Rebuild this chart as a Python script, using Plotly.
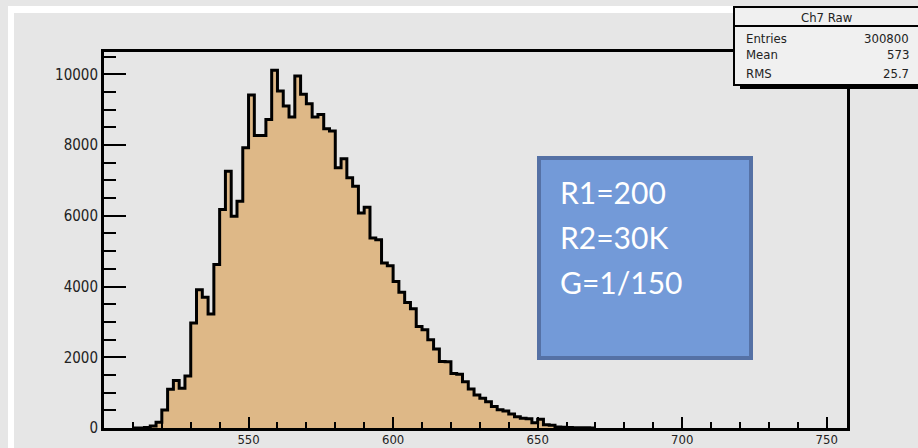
import plotly.graph_objects as go

# Ch7 raw ADC histogram, 2-count bins (left bin edges and contents)
bin_left = [510, 512, 514, 516, 518, 520, 522, 524, 526, 528,
            530, 532, 534, 536, 538, 540, 542, 544, 546, 548,
            550, 552, 554, 556, 558, 560, 562, 564, 566, 568,
            570, 572, 574, 576, 578, 580, 582, 584, 586, 588,
            590, 592, 594, 596, 598, 600, 602, 604, 606, 608,
            610, 612, 614, 616, 618, 620, 622, 624, 626, 628,
            630, 632, 634, 636, 638, 640, 642, 644, 646, 648,
            650, 652, 654, 656, 658, 660, 662, 664, 666, 668]
counts = [0, 0, 15, 60, 160, 510, 1095, 1340, 1125, 1473,
          2965, 3910, 3700, 3220, 4620, 6175, 7260, 5985, 6410, 7920,
          9415, 8270, 8270, 8725, 10115, 9530, 9100, 8790, 9950, 9435,
          9170, 8790, 8865, 8460, 8395, 7355, 7610, 7075, 6835, 6080,
          6240, 5375, 5325, 4665, 4590, 4145, 3835, 3550, 3370, 2870,
          2775, 2495, 2230, 1880, 1870, 1540, 1520, 1310, 1100, 935,
          840, 745, 605, 515, 480, 397, 320, 275, 260, 150,
          246, 90, 80, 30, 20, 15, 10, 8, 5, 0]
bin_width = 2

x_range = [500, 757]
y_range = [0, 10630]
x_ticks = [550, 600, 650, 700, 750]
y_ticks = [0, 2000, 4000, 6000, 8000, 10000]
x_tick_text = ["550", "600", "650", "700", "750"]
y_tick_text = ["0", "2000", "4000", "6000", "8000", "10000"]

hist_title = "Ch7 Raw"
stat_names = ["Entries", "Mean", "RMS"]
stat_values = ["300800", "573", "25.7"]
note_lines = ["R1=200", "R2=30K", "G=1/150"]

W, H = 918, 448
ML, MR, MT, MB = 104, 71, 52, 20
PW, PH = W - ML - MR, H - MT - MB

def px(x):
    return (x - ML) / PW

def py(y):
    return (H - MB - y) / PH

ROOT_FONT = "Liberation Sans Narrow, DejaVu Sans Condensed, Arial Narrow, sans-serif"

# step outline: edges plus closing edge
edges = bin_left + [bin_left[-1] + bin_width]
steps = counts + [counts[-1]]

fig = go.Figure()
fig.add_trace(go.Scatter(
    x=edges, y=steps, mode="lines", line_shape="hv",
    line=dict(color="black", width=3),
    fill="tozeroy", fillcolor="#deb887",
    hoverinfo="skip", showlegend=False,
))

axis_common = dict(
    showgrid=False, zeroline=False, automargin=False,
    showline=True, linecolor="black", linewidth=3, mirror=True,
    ticks="inside", tickcolor="black", tickwidth=2,
)

fig.update_xaxes(
    range=x_range, tickvals=x_ticks, ticktext=x_tick_text, ticklen=11,
    tickfont=dict(family=ROOT_FONT, size=13, color="#222222"),
    ticklabelstandoff=-3,
    minor=dict(dtick=10, ticklen=6, ticks="inside", tickcolor="black", tickwidth=2),
    **axis_common,
)
fig.update_yaxes(
    range=y_range, tickvals=y_ticks, ticktext=y_tick_text, ticklen=22,
    tickfont=dict(family=ROOT_FONT, size=15, color="#222222"),
    minor=dict(dtick=500, ticklen=12, ticks="inside", tickcolor="black", tickwidth=2),
    **axis_common,
)

shapes = []
annotations = []

# raised canvas border highlight
shapes.append(dict(type="rect", xref="paper", yref="paper", layer="below",
                   x0=px(8), x1=px(W + 5), y0=py(6), y1=py(13),
                   fillcolor="white", line_width=0))
shapes.append(dict(type="rect", xref="paper", yref="paper", layer="below",
                   x0=px(8), x1=px(14), y0=py(H + 5), y1=py(6),
                   fillcolor="white", line_width=0))

# statistics box with shadow
shapes.append(dict(type="rect", xref="paper", yref="paper",
                   x0=px(740), x1=px(W + 10), y0=py(89), y1=py(11),
                   fillcolor="black", line_width=0))
shapes.append(dict(type="rect", xref="paper", yref="paper",
                   x0=px(734), x1=px(W + 10), y0=py(85), y1=py(7),
                   fillcolor="#f0f0f0", line=dict(color="black", width=2)))
shapes.append(dict(type="line", xref="paper", yref="paper",
                   x0=px(734), x1=px(W + 10), y0=py(26), y1=py(26),
                   line=dict(color="black", width=2)))

annotations.append(dict(xref="paper", yref="paper", x=px(827), y=py(17),
                        text=hist_title, showarrow=False,
                        font=dict(family=ROOT_FONT, size=13, color="#222222"),
                        xanchor="center", yanchor="middle"))
for i, (name, val) in enumerate(zip(stat_names, stat_values)):
    yy = [38, 54, 73][i]
    annotations.append(dict(xref="paper", yref="paper", x=px(744), y=py(yy),
                            text=name, showarrow=False,
                            font=dict(family=ROOT_FONT, size=13, color="#222222"),
                            xanchor="left", yanchor="middle"))
    annotations.append(dict(xref="paper", yref="paper", x=px(911), y=py(yy),
                            text=val, showarrow=False,
                            font=dict(family=ROOT_FONT, size=13, color="#222222"),
                            xanchor="right", yanchor="middle"))

# settings note box
shapes.append(dict(type="rect", xref="paper", yref="paper",
                   x0=px(539), x1=px(751), y0=py(358), y1=py(158),
                   fillcolor="#739ad8", line=dict(color="#5571a5", width=4)))
for i, line in enumerate(note_lines):
    annotations.append(dict(xref="paper", yref="paper", x=px(558), y=py(192 + 45 * i),
                            text=line, showarrow=False,
                            font=dict(family="Lato, Open Sans, sans-serif", size=30, color="white"),
                            xanchor="left", yanchor="middle"))

fig.update_layout(
    width=W, height=H,
    margin=dict(l=ML, r=MR, t=MT, b=MB),
    paper_bgcolor="#e6e6e6", plot_bgcolor="#e6e6e6",
    shapes=shapes, annotations=annotations,
    showlegend=False,
)

fig.write_html("out.html")
